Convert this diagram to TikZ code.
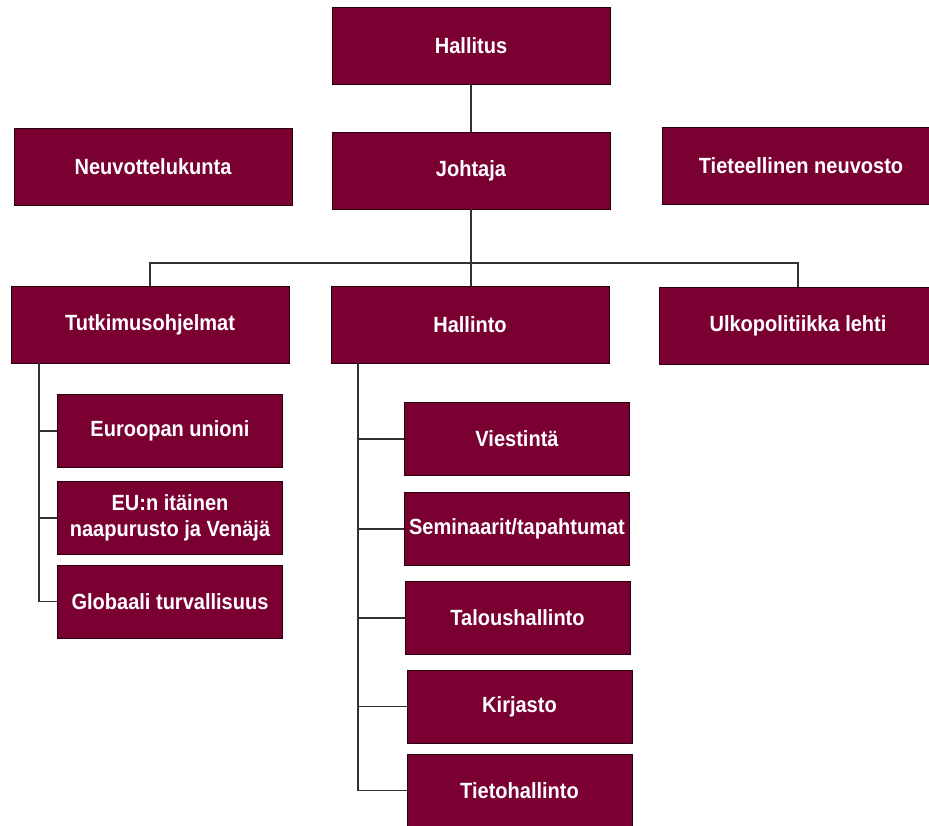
\documentclass[tikz,border=0pt]{standalone}
\usepackage{fontspec}
\setmainfont{Liberation Sans}[FakeStretch=0.91]
\definecolor{boxfill}{RGB}{122,0,50}
\definecolor{boxline}{RGB}{40,0,15}
\definecolor{conn}{RGB}{50,50,50}
\begin{document}
\begin{tikzpicture}[x=1pt,y=-1pt,
  orgbox/.style={draw=boxline,line width=0.9pt,fill=boxfill,text=white,
    font=\fontsize{22}{26}\selectfont\bfseries,inner sep=0pt,align=center,
    minimum width=278pt,minimum height=77pt},
  subbox/.style={orgbox,minimum width=225pt,minimum height=73pt},
  link/.style={draw=conn,line width=1.3pt}]
\useasboundingbox (0,0) rectangle (929,825);
% top level
\node[orgbox] (hal) at (471,46) {Hallitus};
\node[orgbox] (joh) at (471,170.5) {Johtaja};
\node[orgbox] (neu) at (153,167) {Neuvottelukunta};
\node[orgbox] (tie) at (801,165.5) {Tieteellinen neuvosto};
% second level
\node[orgbox] (tut) at (150,325) {Tutkimusohjelmat};
\node[orgbox] (hln) at (470,325) {Hallinto};
\node[orgbox] (ulk) at (798,325.5) {Ulkopolitiikka lehti};
% research programmes
\node[subbox] (eur) at (170,431) {Euroopan unioni};
\node[subbox] (eun) at (170,518) {EU:n itäinen\\naapurusto ja Venäjä};
\node[subbox] (glo) at (170,601.5) {Globaali turvallisuus};
% administration
\node[subbox] (vie) at (517,439) {Viestintä};
\node[subbox] (sem) at (517,529) {Seminaarit/tapahtumat};
\node[subbox] (tal) at (517.5,618) {Taloushallinto};
\node[subbox] (kir) at (519.5,706.5) {Kirjasto};
\node[subbox] (tih) at (519.5,790.5) {Tietohallinto};
% coordinates
\coordinate (bar) at (471,263);
\coordinate (tutx) at (39,363);
\coordinate (hlnx) at (358,363);
% connectors
\draw[link] (hal.south) -- (joh.north);
\draw[link] (joh.south) -- (bar);
\draw[link] (tut.north) |- (bar) -| (ulk.north);
\draw[link] (bar) -- (bar |- hln.north);
\draw[link] (tutx) |- (eur.west);
\draw[link] (tutx) |- (eun.west);
\draw[link] (tutx) |- (glo.west);
\draw[link] (hlnx) |- (vie.west);
\draw[link] (hlnx) |- (sem.west);
\draw[link] (hlnx) |- (tal.west);
\draw[link] (hlnx) |- (kir.west);
\draw[link] (hlnx) |- (tih.west);
\end{tikzpicture}
\end{document}
